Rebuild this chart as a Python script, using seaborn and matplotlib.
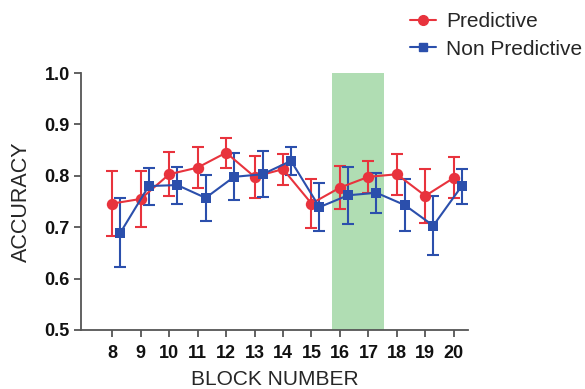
import numpy as np
import pandas as pd
import matplotlib
matplotlib.use("Agg")
import matplotlib.pyplot as plt
import seaborn as sns
from matplotlib.lines import Line2D

blocks = [8, 9, 10, 11, 12, 13, 14, 15, 16, 17, 18, 19, 20]
pred_mean = [0.746, 0.755, 0.803, 0.816, 0.845, 0.798, 0.813, 0.746, 0.777, 0.798, 0.803, 0.761, 0.796]
pred_err = [0.063, 0.055, 0.043, 0.040, 0.029, 0.041, 0.030, 0.048, 0.042, 0.031, 0.040, 0.053, 0.040]
nonpred_mean = [0.689, 0.780, 0.782, 0.757, 0.798, 0.803, 0.829, 0.739, 0.762, 0.767, 0.743, 0.703, 0.780]
nonpred_err = [0.067, 0.036, 0.036, 0.044, 0.046, 0.045, 0.028, 0.047, 0.055, 0.039, 0.050, 0.057, 0.034]
series_names = ["Predictive", "Non Predictive"]
shaded_blocks = (15.73, 17.55)

red = "#e8333d"
blue = "#2b4fac"
offset = 0.28

sns.set_style("ticks")
plt.rcParams["font.family"] = ["Liberation Sans", "DejaVu Sans"]

df = pd.DataFrame({
    "block": list(np.array(blocks, float)) + list(np.array(blocks, float) + offset),
    "acc": pred_mean + nonpred_mean,
    "err": pred_err + nonpred_err,
    "group": [series_names[0]] * len(blocks) + [series_names[1]] * len(blocks),
})

fig = plt.figure(figsize=(5.85, 3.89), dpi=100)
ax = fig.add_axes([81 / 585, 1 - 330 / 389, (468 - 81) / 585, (330 - 73) / 389])

ax.axvspan(shaded_blocks[0], shaded_blocks[1], ymin=0, ymax=1, color="#b0ddb3", lw=0, zorder=0)

palette = {series_names[0]: red, series_names[1]: blue}
for name, marker, ms in [(series_names[0], "o", 8.2), (series_names[1], "s", 7.0)]:
    sub = df[df.group == name]
    ax.errorbar(sub.block, sub.acc, yerr=sub.err, fmt="none", ecolor=palette[name],
                elinewidth=1.5, capsize=4.2, capthick=1.5, zorder=2)
    sns.lineplot(data=sub, x="block", y="acc", color=palette[name], marker=marker,
                 markersize=ms, markeredgewidth=0, linewidth=1.5, ax=ax, zorder=3,
                 legend=False)

ax.set_xlim(6.9, 20.5)
ax.set_ylim(0.5, 1.0)
ax.set_xticks(blocks)
ax.set_xticklabels([str(b) for b in blocks], fontsize=13, fontweight="bold")
ax.set_yticks([0.5, 0.6, 0.7, 0.8, 0.9, 1.0])
ax.set_yticklabels(["0.5", "0.6", "0.7", "0.8", "0.9", "1.0"], fontsize=13, fontweight="bold")
ax.set_xlabel("BLOCK NUMBER", fontsize=15, labelpad=5.5)
ax.set_ylabel("ACCURACY", fontsize=15.5, labelpad=9)
for s in ["top", "right"]:
    ax.spines[s].set_visible(False)
for s in ["left", "bottom"]:
    ax.spines[s].set_color("#555555")
    ax.spines[s].set_linewidth(1.3)
ax.tick_params(axis="x", direction="out", length=5, width=1.3, color="#555555", labelcolor="#111111", pad=6)
ax.tick_params(axis="y", direction="out", length=5, width=1.3, color="#555555", labelcolor="#111111", pad=3)

handles = [
    Line2D([0], [0], color=red, marker="o", markersize=7, linewidth=1.5),
    Line2D([0], [0], color=blue, marker="s", markersize=6, linewidth=1.5),
]
fig.legend(handles, series_names, loc="upper left", bbox_to_anchor=(410 / 585, 1 - 12 / 389),
           frameon=False, fontsize=15, handlelength=1.25, handletextpad=0.5,
           labelspacing=0.42, borderaxespad=0, borderpad=0)

fig.savefig("out.png", dpi=100)
